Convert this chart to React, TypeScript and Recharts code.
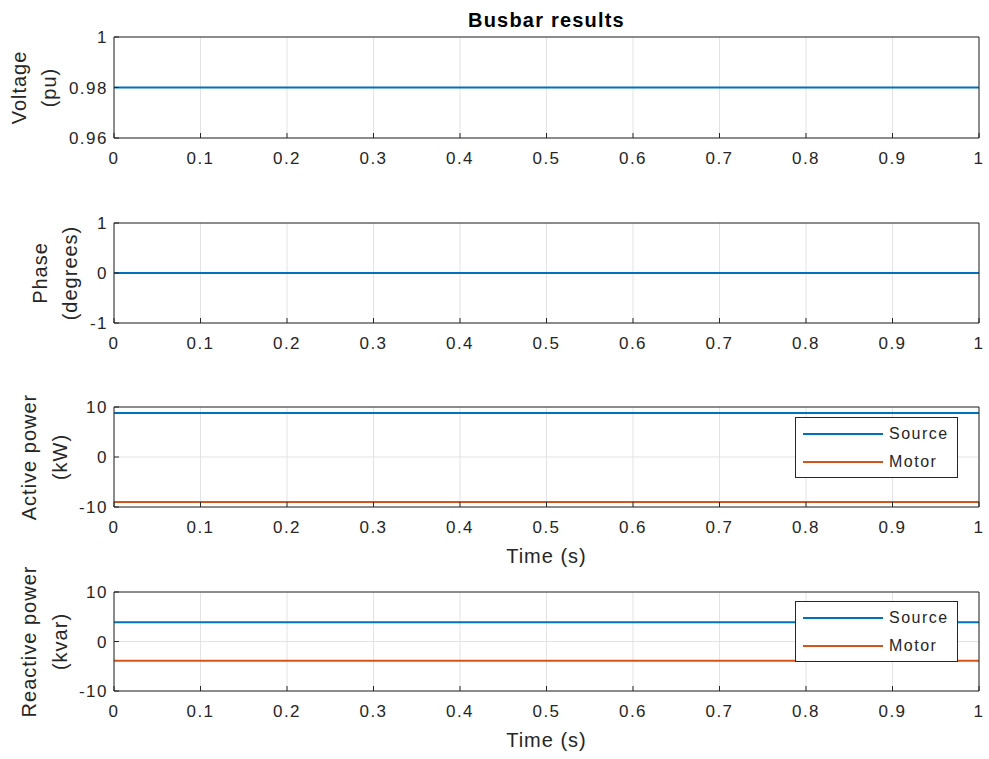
import { LineChart, Line, XAxis, YAxis, CartesianGrid, Legend } from "recharts";

const timeS = [0, 1];
const voltagePu = [0.98, 0.98];
const phaseDeg = [0, 0];
const activeSourceKW = [8.8, 8.8];
const activeMotorKW = [-9.0, -9.0];
const reactiveSourceKvar = [3.9, 3.9];
const reactiveMotorKvar = [-3.9, -3.9];

const timeTicks = [0, 0.1, 0.2, 0.3, 0.4, 0.5, 0.6, 0.7, 0.8, 0.9, 1];
const voltageTicks = [0.96, 0.98, 1];
const phaseTicks = [-1, 0, 1];
const powerTicks = [-10, 0, 10];
const legendOrder = ["Source", "Motor"];

const rows = timeS.map((t, i) => ({
  t,
  voltage: voltagePu[i],
  phase: phaseDeg[i],
  pSource: activeSourceKW[i],
  pMotor: activeMotorKW[i],
  qSource: reactiveSourceKvar[i],
  qMotor: reactiveMotorKvar[i],
}));

const ink = "#262626";
const blue = "#0072BD";
const orange = "#D95319";
const PAD_TOP = 35;
const PAD_BOTTOM = 60;

function BoxLegend({ payload }: any) {
  const items = [...(payload || [])].sort(
    (a: any, b: any) => legendOrder.indexOf(a.value) - legendOrder.indexOf(b.value)
  );
  return (
    <div
      style={{
        width: 163,
        height: 61,
        boxSizing: "border-box",
        border: `1px solid ${ink}`,
        background: "#fff",
        padding: "2px 0 0 7px",
        fontSize: 16,
        letterSpacing: 1.5,
        color: ink,
      }}
    >
      {items.map((p: any) => (
        <div key={p.value} style={{ display: "flex", alignItems: "center", height: 28 }}>
          <svg width={80} height={4}>
            <line x1={0} y1={2} x2={80} y2={2} stroke={p.color} strokeWidth={2} />
          </svg>
          <span style={{ marginLeft: 6 }}>{p.value}</span>
        </div>
      ))}
    </div>
  );
}

function AxisTitle({ lines, baselines, cy }: { lines: string[]; baselines: number[]; cy: number }) {
  return (
    <g>
      {lines.map((ln, i) => (
        <text
          key={ln}
          x={baselines[i]}
          y={cy}
          transform={`rotate(-90 ${baselines[i]} ${cy})`}
          textAnchor="middle"
          fill={ink}
          fontSize={20}
          letterSpacing={1}
        >
          {ln}
        </text>
      ))}
    </g>
  );
}

interface PanelProps {
  top: number;
  plotH: number;
  yDomain: [number, number];
  yTicks: number[];
  yTitle: string[];
  titleX: number[];
  series: { key: string; name: string; color: string }[];
  legendTop?: number;
  withTime?: boolean;
  heading?: string;
}

function Panel({ top, plotH, yDomain, yTicks, yTitle, titleX, series, legendTop, withTime, heading }: PanelProps) {
  const tickStyle = { fill: ink, fontSize: 17, letterSpacing: 1.5 };
  return (
    <div style={{ position: "absolute", left: 0, top: top - PAD_TOP }}>
      <LineChart
        width={989}
        height={plotH + PAD_TOP + PAD_BOTTOM}
        data={rows}
        margin={{ top: PAD_TOP - 1, right: 9, bottom: 0, left: 0 }}
      >
        <CartesianGrid stroke="#e3e3e3" />
        <XAxis
          dataKey="t"
          type="number"
          domain={[0, 1]}
          ticks={timeTicks}
          interval={0}
          height={PAD_BOTTOM}
          stroke={ink}
          tickSize={-5}
          tickMargin={19}
          tick={tickStyle}
          label={
            withTime
              ? { value: "Time (s)", position: "insideTop", offset: 42, fill: ink, fontSize: 20, letterSpacing: 1 }
              : undefined
          }
        />
        <XAxis
          xAxisId="top"
          orientation="top"
          dataKey="t"
          type="number"
          domain={[0, 1]}
          ticks={timeTicks}
          interval={0}
          height={1}
          stroke={ink}
          tickSize={-5}
          tick={false}
          label={
            heading
              ? { value: heading, position: "top", offset: 9, fill: "#000", fontSize: 20, fontWeight: "bold", letterSpacing: 1.2 }
              : undefined
          }
        />
        <YAxis
          type="number"
          domain={yDomain}
          ticks={yTicks}
          interval={0}
          width={114}
          stroke={ink}
          tickSize={-5}
          tickMargin={11}
          tick={tickStyle}
          label={<AxisTitle lines={yTitle} baselines={titleX} cy={PAD_TOP + plotH / 2} />}
        />
        <YAxis
          yAxisId="right"
          orientation="right"
          type="number"
          domain={yDomain}
          ticks={yTicks}
          interval={0}
          width={1}
          stroke={ink}
          tickSize={-5}
          tick={false}
        />
        {series.map((s) => (
          <Line
            key={s.key}
            type="linear"
            dataKey={s.key}
            name={s.name}
            stroke={s.color}
            strokeWidth={2}
            dot={false}
            isAnimationActive={false}
          />
        ))}
        {legendTop !== undefined && (
          <Legend
            layout="vertical"
            align="center"
            verticalAlign="middle"
            wrapperStyle={{ top: legendTop, left: 795 }}
            content={<BoxLegend />}
          />
        )}
      </LineChart>
    </div>
  );
}

export default function App() {
  return (
    <div
      style={{
        position: "absolute",
        left: 0,
        top: 0,
        width: 989,
        height: 759,
        background: "#fff",
        fontFamily: '"Liberation Sans", Arial, Helvetica, sans-serif',
      }}
    >
      <Panel
        top={37}
        plotH={101}
        yDomain={[0.96, 1]}
        yTicks={voltageTicks}
        yTitle={["Voltage", "(pu)"]}
        titleX={[26, 56]}
        series={[{ key: "voltage", name: "Voltage", color: blue }]}
        heading="Busbar results"
      />
      <Panel
        top={223}
        plotH={100}
        yDomain={[-1, 1]}
        yTicks={phaseTicks}
        yTitle={["Phase", "(degrees)"]}
        titleX={[47, 77]}
        series={[{ key: "phase", name: "Phase", color: blue }]}
      />
      <Panel
        top={407}
        plotH={100}
        yDomain={[-10, 10]}
        yTicks={powerTicks}
        yTitle={["Active power", "(kW)"]}
        titleX={[36, 67]}
        series={[
          { key: "pSource", name: "Source", color: blue },
          { key: "pMotor", name: "Motor", color: orange },
        ]}
        legendTop={45}
        withTime
      />
      <Panel
        top={592}
        plotH={99}
        yDomain={[-10, 10]}
        yTicks={powerTicks}
        yTitle={["Reactive power", "(kvar)"]}
        titleX={[36, 67]}
        series={[
          { key: "qSource", name: "Source", color: blue },
          { key: "qMotor", name: "Motor", color: orange },
        ]}
        legendTop={44}
        withTime
      />
    </div>
  );
}
